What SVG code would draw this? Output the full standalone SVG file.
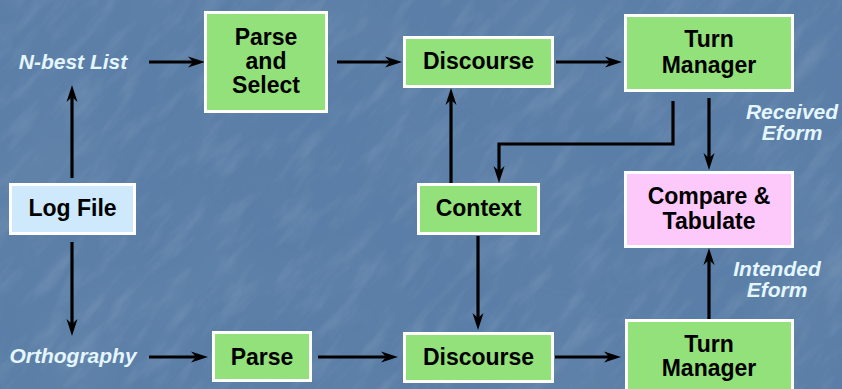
<svg xmlns="http://www.w3.org/2000/svg" width="842" height="389" viewBox="0 0 842 389">
  <defs>
    <style>
      .box { stroke: #ffffff; stroke-width: 3; }
      .green { fill: #93e17b; }
      .blue { fill: #cde9fb; }
      .pink { fill: #fdc9fb; }
      .t { font-family: "Liberation Sans", Arial, sans-serif; font-weight: bold; font-size: 23px; fill: #000000; text-anchor: middle; }
      .lbl { font-family: "Liberation Sans", Arial, sans-serif; font-weight: bold; font-style: italic; font-size: 21px; fill: #e4f6ff; text-anchor: middle; }
      .c { fill: none; stroke: #000000; stroke-width: 3.2; stroke-linejoin: miter; marker-end: url(#ah); }
    </style>
    <marker id="ah" markerUnits="userSpaceOnUse" markerWidth="18" markerHeight="12" viewBox="0 0 18 12" refX="11" refY="6" orient="auto">
      <path d="M0,0.5 L17,6 L0,11.5 L5,6 Z" fill="#000000"/>
    </marker>
    <filter id="tex" x="0" y="0" width="100%" height="100%">
      <feTurbulence type="fractalNoise" baseFrequency="0.02 0.07" numOctaves="4" seed="11" result="n"/>
      <feColorMatrix in="n" type="matrix" values="0 0 0 0 1  0 0 0 0 1  0 0 0 0 1  0 0 0 1.3 -0.6"/>
    </filter>
    <filter id="mot" x="0" y="0" width="100%" height="100%">
      <feTurbulence type="fractalNoise" baseFrequency="0.008" numOctaves="2" seed="3" result="m"/>
      <feColorMatrix in="m" type="matrix" values="0 0 0 0 0.2  0 0 0 0 0.3  0 0 0 0 0.45  0 0 0 1.2 -0.45"/>
    </filter>
  </defs>

  <g id="background">
    <rect x="0" y="0" width="842" height="389" fill="#5a7ea7"/>
    <rect x="0" y="0" width="842" height="389" filter="url(#mot)" opacity="0.35"/>
    <g transform="rotate(-50 421 194)" opacity="0.16">
      <rect x="-300" y="-300" width="1442" height="989" filter="url(#tex)"/>
    </g>
  </g>

  <g id="connectors">
    <path class="c" d="M149,62 L199,62"/>
    <path class="c" d="M337,62 L396,62"/>
    <path class="c" d="M556,62 L616,62"/>
    <path class="c" d="M72,178 L72,91"/>
    <path class="c" d="M72,242 L72,330"/>
    <path class="c" d="M149,357 L202,357"/>
    <path class="c" d="M318,357 L392,357"/>
    <path class="c" d="M555,357 L615,357"/>
    <path class="c" d="M451,183 L451,94"/>
    <path class="c" d="M673,101 L673,144 L499,144 L499,177"/>
    <path class="c" d="M709,98 L709,164"/>
    <path class="c" d="M478,236 L478,324"/>
    <path class="c" d="M709,319 L709,254"/>
  </g>

  <g id="n-best-list">
    <text class="lbl" x="73" y="69">N-best List</text>
  </g>
  <g id="orthography">
    <text class="lbl" x="73" y="363">Orthography</text>
  </g>
  <g id="received-eform">
    <text class="lbl" x="792" y="119">Received</text>
    <text class="lbl" x="792" y="140">Eform</text>
  </g>
  <g id="intended-eform">
    <text class="lbl" x="777" y="276">Intended</text>
    <text class="lbl" x="777" y="297">Eform</text>
  </g>

  <g id="parse-select">
    <rect class="box green" x="205.5" y="12.5" width="121" height="99"/>
    <text class="t" x="266" y="45">Parse</text>
    <text class="t" x="266" y="69">and</text>
    <text class="t" x="266" y="93">Select</text>
  </g>
  <g id="discourse-top">
    <rect class="box green" x="404.5" y="37.5" width="148" height="49"/>
    <text class="t" x="478.5" y="69">Discourse</text>
  </g>
  <g id="turn-manager-top">
    <rect class="box green" x="625.5" y="15.5" width="167" height="75"/>
    <text class="t" x="709" y="47">Turn</text>
    <text class="t" x="709" y="73">Manager</text>
  </g>
  <g id="log-file">
    <rect class="box blue" x="10.5" y="184.5" width="124" height="49"/>
    <text class="t" x="72.5" y="216">Log File</text>
  </g>
  <g id="context">
    <rect class="box green" x="418.5" y="184.5" width="120" height="49"/>
    <text class="t" x="478.5" y="216">Context</text>
  </g>
  <g id="compare-tabulate">
    <rect class="box pink" x="625.5" y="172.5" width="167" height="74"/>
    <text class="t" x="709" y="204">Compare &amp;</text>
    <text class="t" x="709" y="229">Tabulate</text>
  </g>
  <g id="parse-bottom">
    <rect class="box green" x="213.5" y="332.5" width="97" height="48"/>
    <text class="t" x="262" y="365">Parse</text>
  </g>
  <g id="discourse-bottom">
    <rect class="box green" x="404.5" y="333.5" width="148" height="48"/>
    <text class="t" x="478.5" y="365">Discourse</text>
  </g>
  <g id="turn-manager-bottom">
    <rect class="box green" x="626.5" y="320.5" width="166" height="72"/>
    <text class="t" x="709" y="352">Turn</text>
    <text class="t" x="709" y="376">Manager</text>
  </g>
</svg>
